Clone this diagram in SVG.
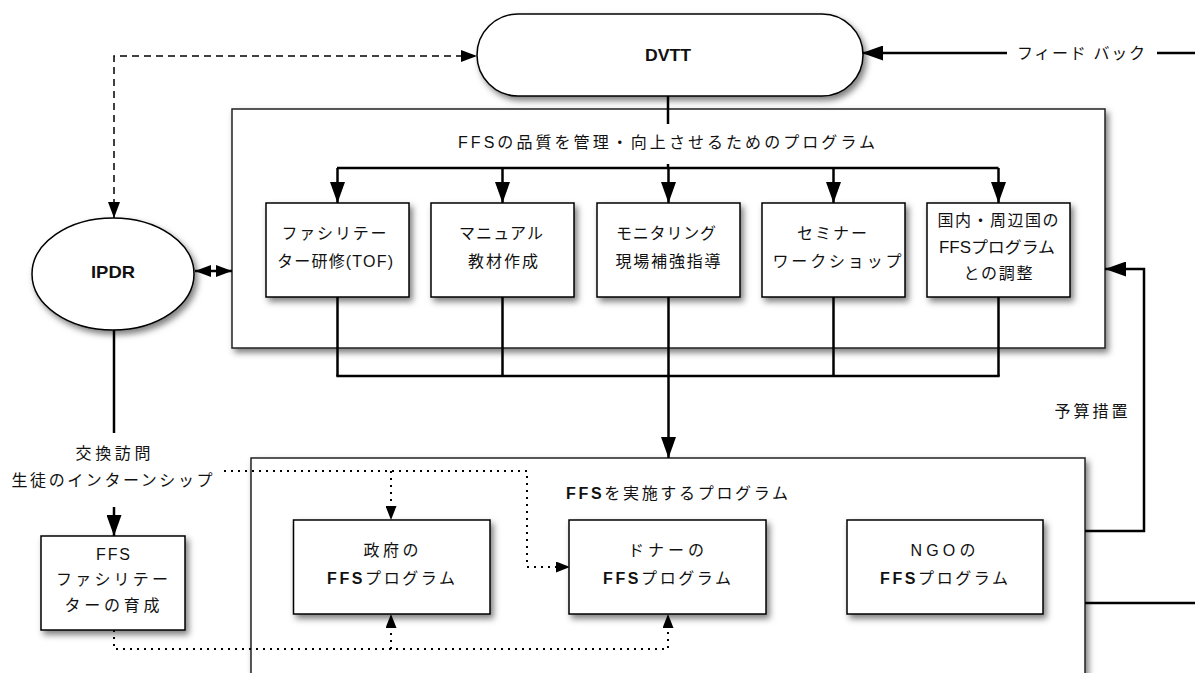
<svg xmlns="http://www.w3.org/2000/svg" width="1195" height="673" viewBox="0 0 1195 673">
<defs>
<filter id="sh" x="-10%" y="-10%" width="130%" height="140%">
<feDropShadow dx="3" dy="4" stdDeviation="3" flood-color="#000" flood-opacity="0.5"/>
</filter>
<marker id="ah" markerUnits="userSpaceOnUse" markerWidth="21" markerHeight="15" refX="21" refY="7.5" orient="auto-start-reverse" viewBox="0 0 21 15"><path d="M0,0 L21,7.5 L0,15 z" fill="#000"/></marker>
<marker id="as" markerUnits="userSpaceOnUse" markerWidth="16" markerHeight="12" refX="16" refY="6" orient="auto-start-reverse" viewBox="0 0 16 12"><path d="M0,0 L16,6 L0,12 z" fill="#000"/></marker>
<marker id="ad" markerUnits="userSpaceOnUse" markerWidth="14" markerHeight="11" refX="14" refY="5.5" orient="auto-start-reverse" viewBox="0 0 14 11"><path d="M0,0 L14,5.5 L0,11 z" fill="#000"/></marker>
</defs>
<style>
.box{fill:#fff;stroke:#000;stroke-width:1.5;filter:url(#sh)}
.cont{fill:#fff;stroke:#222;stroke-width:1.5;filter:url(#sh)}
.t{font-family:"Liberation Sans","Noto Sans CJK JP",sans-serif;font-size:16px;fill:#111;text-anchor:middle;dominant-baseline:central}
.l{text-anchor:start}
.b{font-weight:bold}
.c{fill:none;stroke:#000;stroke-width:2.5}
.dash{fill:none;stroke:#000;stroke-width:1.5;stroke-dasharray:7 5}
.dot{fill:none;stroke:#000;stroke-width:2;stroke-dasharray:2 5}
</style>
<rect width="1195" height="673" fill="#fff"/>

<g id="container-quality">
<rect class="cont" x="232" y="109" width="873" height="239"/>
</g>
<g id="container-implement">
<rect class="cont" x="251" y="458" width="834" height="260"/>
</g>

<g id="connectors">
<path class="dash" d="M114 218 V56 H477" marker-start="url(#as)" marker-end="url(#as)"/>
<path class="c" d="M1007 53 H862" marker-end="url(#ah)"/>
<path class="c" d="M1157 53 H1195"/>
<path class="c" d="M668 96 V168"/>
<path class="c" d="M337 168 H998.5"/>
<path class="c" d="M337.5 168 V203" marker-end="url(#ah)"/>
<path class="c" d="M502.5 168 V203" marker-end="url(#ah)"/>
<path class="c" d="M668.5 168 V203" marker-end="url(#ah)"/>
<path class="c" d="M833.5 168 V203" marker-end="url(#ah)"/>
<path class="c" d="M998.5 168 V203" marker-end="url(#ah)"/>
<path class="c" d="M337.5 297 V376 M502.5 297 V376 M668.5 297 V376 M833.5 297 V376 M998.5 297 V376"/>
<path class="c" d="M336.3 376 H999.7"/>
<path class="c" d="M668.5 376 V458" marker-end="url(#ah)"/>
<path class="c" d="M195 271 H232" stroke-width="2" marker-start="url(#as)" marker-end="url(#as)"/>
<path class="c" d="M114 330 V433"/>
<path class="c" d="M114 507 V536" marker-end="url(#ah)"/>
<path class="c" d="M1085 531 H1144 V269 H1105" marker-end="url(#ah)"/>
<path class="c" d="M1085 603 H1195"/>
<path class="dot" d="M224 471 H527 V567 H570" marker-end="url(#ad)"/>
<path class="dot" d="M391 471 V520" marker-end="url(#ad)"/>
<path class="dot" d="M114 630 V649 H668 V614" marker-end="url(#ad)"/>
<path class="dot" d="M391 649 V614" marker-end="url(#ad)"/>
</g>

<g id="label-quality">
<rect x="455" y="124" width="425" height="40" fill="#fff"/>
<text class="t" x="666.5" y="142" textLength="417" lengthAdjust="spacing">FFSの品質を管理・向上させるためのプログラム</text>
</g>
<g id="label-implement">
<text class="t l" x="566" y="493" textLength="222" lengthAdjust="spacing"><tspan class="b">FFS</tspan>を実施するプログラム</text>
</g>

<g id="dvtt">
<rect class="box" x="477" y="14" width="386" height="82" rx="41" ry="41"/>
<text class="t b" x="668" y="55" style="font-size:17px" textLength="46" lengthAdjust="spacingAndGlyphs">DVTT</text>
</g>
<g id="feedback-label">
<text class="t" x="1081" y="53" textLength="128" lengthAdjust="spacing">フィード バック</text>
</g>
<g id="ipdr">
<ellipse class="box" cx="113" cy="274" rx="81" ry="56"/>
<text class="t b" x="113" y="272" style="font-size:17px" textLength="44" lengthAdjust="spacingAndGlyphs">IPDR</text>
</g>

<g id="tof">
<rect class="box" x="266" y="203" width="143" height="94"/>
<text class="t" x="334" y="233" textLength="105" lengthAdjust="spacing">ファシリテー</text>
<text class="t" x="335" y="261" textLength="116" lengthAdjust="spacing">ター研修(TOF)</text>
</g>
<g id="manual">
<rect class="box" x="431" y="203" width="143" height="94"/>
<text class="t" x="501" y="233" textLength="84" lengthAdjust="spacing">マニュアル</text>
<text class="t" x="503" y="261" textLength="70" lengthAdjust="spacing">教材作成</text>
</g>
<g id="monitoring">
<rect class="box" x="597" y="203" width="143" height="94"/>
<text class="t" x="666" y="233" textLength="100" lengthAdjust="spacing">モニタリング</text>
<text class="t" x="668" y="261" textLength="105" lengthAdjust="spacing">現場補強指導</text>
</g>
<g id="seminar">
<rect class="box" x="762" y="203" width="143" height="94"/>
<text class="t" x="832" y="233" textLength="70" lengthAdjust="spacing">セミナー</text>
<text class="t" x="837" y="261" textLength="129" lengthAdjust="spacing">ワークショップ</text>
</g>
<g id="coordination">
<rect class="box" x="927" y="203" width="143" height="94"/>
<text class="t" x="998" y="220" textLength="121" lengthAdjust="spacing">国内・周辺国の</text>
<text class="t" x="997" y="247" textLength="116" lengthAdjust="spacingAndGlyphs">FFSプログラム</text>
<text class="t" x="998" y="273" textLength="69" lengthAdjust="spacing">との調整</text>
</g>

<g id="budget-label">
<text class="t" x="1091" y="411" textLength="73" lengthAdjust="spacing">予算措置</text>
</g>
<g id="exchange-label">
<text class="t" x="113" y="453" textLength="75" lengthAdjust="spacing">交換訪問</text>
<text class="t" x="112" y="480" textLength="201" lengthAdjust="spacing">生徒のインターンシップ</text>
</g>

<g id="facilitator-training">
<rect class="box" x="41" y="536" width="144" height="94"/>
<text class="t" x="113" y="554" textLength="34" lengthAdjust="spacing">FFS</text>
<text class="t" x="112" y="579" textLength="112" lengthAdjust="spacing">ファシリテー</text>
<text class="t" x="112" y="605" textLength="95" lengthAdjust="spacing">ターの育成</text>
</g>
<g id="gov">
<rect class="box" x="293.5" y="520" width="196.5" height="94"/>
<text class="t" x="391" y="550" textLength="55" lengthAdjust="spacing">政府の</text>
<text class="t" x="391" y="578" textLength="128" lengthAdjust="spacing"><tspan class="b">FFS</tspan>プログラム</text>
</g>
<g id="donor">
<rect class="box" x="569" y="520" width="197" height="94"/>
<text class="t" x="666" y="550" textLength="76" lengthAdjust="spacing">ドナーの</text>
<text class="t" x="667" y="578" textLength="128" lengthAdjust="spacing"><tspan class="b">FFS</tspan>プログラム</text>
</g>
<g id="ngo">
<rect class="box" x="847" y="520" width="196" height="94"/>
<text class="t" x="943" y="550" textLength="65" lengthAdjust="spacing">NGOの</text>
<text class="t" x="944" y="578" textLength="128" lengthAdjust="spacing"><tspan class="b">FFS</tspan>プログラム</text>
</g>
</svg>
